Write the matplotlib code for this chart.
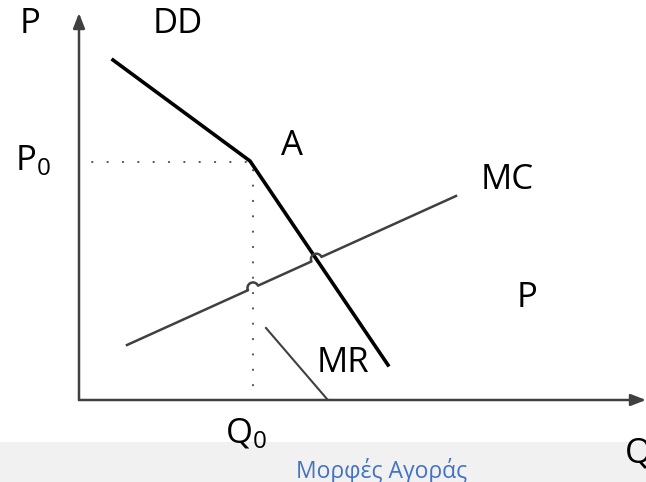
import numpy as np
import matplotlib
matplotlib.use("Agg")
import matplotlib.pyplot as plt
from matplotlib.patches import Rectangle

plt.rcParams['font.family'] = ['Open Sans', 'DejaVu Sans']
plt.rcParams['mathtext.fontset'] = 'custom'
plt.rcParams['mathtext.rm'] = 'Open Sans'
plt.rcParams['mathtext.it'] = 'Open Sans'
plt.rcParams['mathtext.default'] = 'regular'

# ---- diagram data (quantity q, price p) ----
dd_q = [34, 171, 309]
dd_p = [340, 239, 35]
mc_q = [48, 377]
mc_p = [55, 204]
mr_q = [187, 248]
mr_p = [72, 1]
q0 = 174
p0 = 238
footer = "Μορφές Αγοράς"

W, H = 646, 482
ox, oy = 79, 400  # pixel position of origin
fig = plt.figure(figsize=(W/100, H/100), dpi=100)
ax = fig.add_axes([0, 0, 1, 1])
ax.set_xlim(-ox, W - ox)
ax.set_ylim(oy - H, oy)
ax.axis('off')

dark = '#404040'

# footer band
ax.add_patch(Rectangle((-ox, oy - H), W, 482 - 442, facecolor='#f1f1f1',
                       edgecolor='none', zorder=0))

# axes arrows
ax.annotate('', xy=(W - ox, 0), xytext=(0, 0),
            arrowprops=dict(arrowstyle='-|>,head_length=0.9,head_width=0.35',
                            color=dark, lw=1.8, shrinkA=0, shrinkB=0))
ax.annotate('', xy=(0, oy - 13), xytext=(0, 0),
            arrowprops=dict(arrowstyle='-|>,head_length=0.9,head_width=0.35',
                            color=dark, lw=1.8, shrinkA=0, shrinkB=0))

# dotted guides
ax.plot([13, dd_q[1] - 2], [p0, p0], color=dark, lw=1.3, ls=(0, (0.3, 8.2)),
        dash_capstyle='round')
ax.plot([q0, q0], [p0 - 8, 13], color=dark, lw=1.3, ls=(0, (0.3, 8.2)),
        dash_capstyle='round')

# DD curve
ax.plot(dd_q, dd_p, color='black', lw=2.6, solid_joinstyle='miter')

# MC with hops over crossing lines
mq = np.array(mc_q, float); mp = np.array(mc_p, float)
u = np.array([mq[1] - mq[0], mp[1] - mp[0]]); u /= np.hypot(*u)
nrm = np.array([-u[1], u[0]])
slope_mc = (mp[1] - mp[0]) / (mq[1] - mq[0])
c1 = np.array([q0, mp[0] + slope_mc * (q0 - mq[0])])
sdd = (dd_p[2] - dd_p[1]) / (dd_q[2] - dd_q[1])
xq = (mp[0] - slope_mc * mq[0] - dd_p[1] + sdd * dd_q[1]) / (sdd - slope_mc)
c2 = np.array([xq, dd_p[1] + sdd * (xq - dd_q[1])])
r = 5.5
pts = [np.array([mq[0], mp[0]])]
for c in (c1, c2):
    t = np.linspace(np.pi, 0, 20)
    arc = c[None, :] + r * (np.cos(t)[:, None] * u[None, :] + np.sin(t)[:, None] * nrm[None, :])
    pts.extend(list(arc))
pts.append(np.array([mq[1], mp[1]]))
pts = np.array(pts)
ax.plot(pts[:, 0], pts[:, 1], color=dark, lw=1.8)

# MR
ax.plot(mr_q, mr_p, color=dark, lw=1.5)

fs = 25
def lab(px, py, s, **kw):
    ax.text(px - ox, oy - py, s, fontsize=fs, ha='center', va='center', color='black', **kw)

lab(30, 24, 'P')
lab(178, 24, 'DD')
lab(292, 146, 'A')
lab(33, 161, 'P$_0$')
lab(507, 180, 'MC')
lab(527, 298, 'P')
lab(343, 363, 'MR')
lab(246, 434, 'Q$_0$')
ax.text(625 - ox, oy - 453, 'Q', fontsize=fs, ha='left', va='center', color='black')

ax.text(382 - ox, oy - 478, footer, fontsize=16.5, ha='center', va='baseline', color='#4472C4')

fig.savefig('out.png', dpi=100)
